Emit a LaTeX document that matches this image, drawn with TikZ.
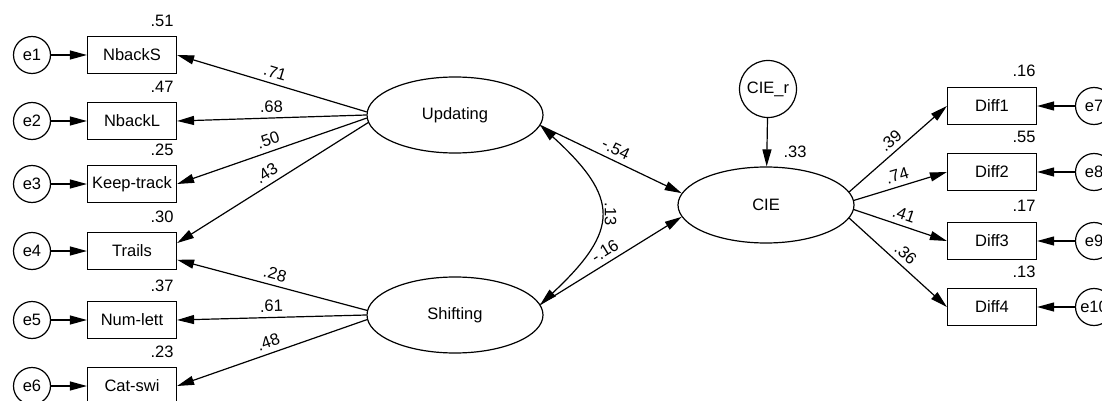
\documentclass[tikz,border=0pt]{standalone}
\usepackage{fontspec}
\setmainfont{Liberation Sans}
\usetikzlibrary{arrows.meta,positioning,shapes.geometric}
\tikzset{
  >={Triangle[length=17pt,width=9pt]},
  obs/.style={draw, minimum width=89pt, minimum height=37pt, inner sep=0pt},
  lat/.style={draw, ellipse, minimum width=176pt, minimum height=76pt, inner sep=0pt},
  err/.style={draw, circle, minimum size=37pt, inner sep=0pt},
  rsq/.style={inner sep=0pt},
  coef/.style={midway, sloped, above, inner sep=5pt}
}
\begin{document}
\begin{tikzpicture}[x=1pt, y=-1pt, line width=1.2pt,
    font=\fontsize{16.5pt}{19pt}\selectfont]
    \useasboundingbox (0,0) rectangle (1102,401);
    % left indicators
    \node[obs] (nbacks) at (132,55) {NbackS};
    \node[obs] (nbackl) at (132,121) {NbackL};
    \node[obs] (keep) at (132,184) {Keep-track};
    \node[obs] (trails) at (132,251) {Trails};
    \node[obs] (numlett) at (132,320) {Num-lett};
    \node[obs] (catswi) at (132,386) {Cat-swi};
    \node[err] (e1) at (32,55) {e1};
    \node[err] (e2) at (32,121) {e2};
    \node[err] (e3) at (32,184) {e3};
    \node[err] (e4) at (32,251) {e4};
    \node[err] (e5) at (32,320) {e5};
    \node[err] (e6) at (32,386) {e6};
    % latent variables
    \node[lat] (upd) at (455,115) {Updating};
    \node[lat] (shift) at (455,315) {Shifting};
    \node[lat] (cie) at (766,205) {CIE};
    \node[err, minimum size=57pt] (cier) at (768,89) {CIE\_r};
    % right indicators
    \node[obs] (diff1) at (992,106) {Diff1};
    \node[obs] (diff2) at (992,172) {Diff2};
    \node[obs] (diff3) at (992,241) {Diff3};
    \node[obs] (diff4) at (992,307) {Diff4};
    \node[err] (e7) at (1094,106) {e7};
    \node[err] (e8) at (1094,172) {e8};
    \node[err] (e9) at (1094,241) {e9};
    \node[err] (e10) at (1094,307) {e10};
    % squared multiple correlations
    \node[rsq, above left=9pt and 3pt of nbacks.north east] (r1) {.51};
    \node[rsq, above left=9pt and 3pt of nbackl.north east] (r2) {.47};
    \node[rsq, above left=9pt and 3pt of keep.north east] (r3) {.25};
    \node[rsq, above left=9pt and 3pt of trails.north east] (r4) {.30};
    \node[rsq, above left=9pt and 3pt of numlett.north east] (r5) {.37};
    \node[rsq, above left=9pt and 3pt of catswi.north east] (r6) {.23};
    \node[rsq, above left=10pt and 1pt of diff1.north east] (r7) {.16};
    \node[rsq, above left=10pt and 1pt of diff2.north east] (r8) {.55};
    \node[rsq, above left=10pt and 1pt of diff3.north east] (r9) {.17};
    \node[rsq, above left=10pt and 1pt of diff4.north east] (r10) {.13};
    \node[rsq, above right=8pt and 17pt of cie.north] (rcie) {.33};
    % error terms
    \foreach \e/\b in {e1/nbacks, e2/nbackl, e3/keep, e4/trails, e5/numlett,
        e6/catswi, e7/diff1, e8/diff2, e9/diff3, e10/diff4}
        \draw[->] (\e) -- (\b);
    \draw[->] (cier) -- (cie);
    % loadings
    \draw[->] (upd.178) -- (nbacks.east) node[coef] {.71};
    \draw[->] (upd.180) -- (nbackl.east) node[coef] {.68};
    \draw[->] (upd.182) -- (keep.east) node[coef] {.50};
    \draw[->] (upd.185) -- (trails.10) node[coef] {.43};
    \draw[->] (shift.177) -- (trails.-11) node[coef] {.28};
    \draw[->] (shift.180) -- (numlett.east) node[coef] {.61};
    \draw[->] (shift.183) -- (catswi.east) node[coef] {.48};
    \draw[->] (cie.9) -- (diff1.west) node[coef] {.39};
    \draw[->] (cie.3) -- (diff2.west) node[coef] {.74};
    \draw[->] (cie.-3) -- (diff3.west) node[coef] {.41};
    \draw[->] (cie.-9) -- (diff4.west) node[coef] {.36};
    % structural part
    \draw[->] (upd.-7) -- (cie.172) node[coef] {-.54};
    \draw[->] (shift.7) -- (cie.188) node[coef] {-.16};
    \draw[<->] (upd.-7) .. controls (620,198) and (620,230) .. (shift.7)
        node[pos=0.5, rotate=-90, anchor=south, inner sep=4pt] {.13};
\end{tikzpicture}
\end{document}
